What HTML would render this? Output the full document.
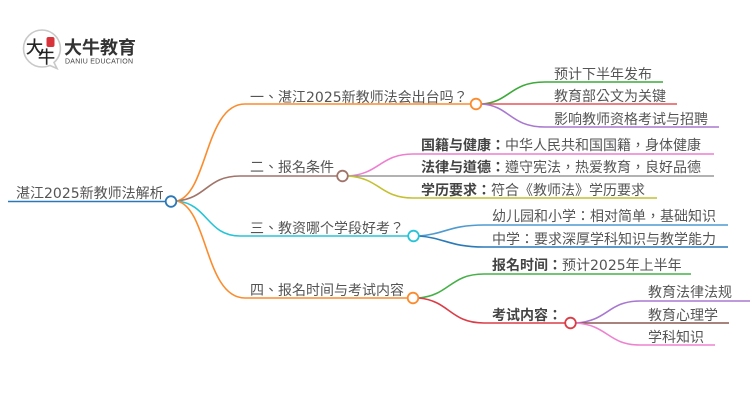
<!DOCTYPE html>
<html><head><meta charset="utf-8"><style>
html,body{margin:0;padding:0;background:#fff;width:750px;height:410px;overflow:hidden}
svg{display:block}
text{font-family:"DejaVu Sans","WenQuanYi Zen Hei","Noto Sans CJK TC",sans-serif;font-size:14px;fill:#555}
tspan.b{font-weight:700;fill:#444}
path,line{fill:none;stroke-width:1.6}
circle.n{fill:#fff;stroke-width:1.8}
</style></head><body>
<svg width="750" height="410" viewBox="0 0 750 410" xmlns="http://www.w3.org/2000/svg">
<!-- logo -->
<path d="M42 30a18.500 18.500 0 1 0 0 37c3 0 6-.7 8-1.500l7 3-3-6a18.500 18.500 0 0 0-12-32.500z" stroke="#c9c9c9" stroke-width="1"/>
<path d="M27.500 38a18.500 18.500 0 0 1 29 0q-14.500-5-29 0z" fill="#e2202a" stroke="none"/>
<rect x="46.500" y="37" width="8" height="10" rx="2" fill="#d8323a"/>
<text x="26" y="53" style="font-size:17px;fill:#222;stroke:#222;stroke-width:.3;font-family:'Noto Sans CJK SC',sans-serif">大</text>
<text x="38" y="63" style="font-size:17px;fill:#222;stroke:#222;stroke-width:.3;font-family:'Noto Sans CJK SC',sans-serif">牛</text>
<text x="64" y="54" style="font-size:18px;font-weight:700;fill:#333;font-family:'Noto Sans CJK SC',sans-serif">大牛教育</text>
<text x="65" y="63.500" style="font-size:7px;fill:#444;font-family:'Liberation Sans',sans-serif" textLength="68">DANIU EDUCATION</text>
<!-- root -->
<line x1="8" y1="201.500" x2="166" y2="201.500" stroke="#2b78b8"/>
<!-- main branches -->
<path d="M177 201C208 193 205 104 245 104H470" stroke="#fb8c2e"/>
<path d="M177 201C207 198 207 176 240 176H337" stroke="#a1746a"/>
<path d="M177 201C208 204 207 236 240 236H408" stroke="#27c4d8"/>
<path d="M177 201C208 208 205 298 245 298H408" stroke="#fb8c2e"/>
<!-- leaves 1 -->
<path d="M482 104C510 102 510 82 545 82H663" stroke="#3daa3a"/>
<path d="M482 104H677" stroke="#e8535a"/>
<path d="M482 104C510 106 510 127 545 127H719" stroke="#a878d0"/>
<!-- leaves 2 -->
<path d="M348 176C380 174 380 154 413 154H714" stroke="#ee7fd0"/>
<path d="M348 176H714" stroke="#999"/>
<path d="M348 176C380 178 380 198 413 198H657" stroke="#c4c030"/>
<!-- leaves 3 -->
<path d="M419 236C445 234 450 225 484 225H728" stroke="#4f9bd0"/>
<path d="M419 236C445 238 450 247 484 247H728" stroke="#2a7ab8"/>
<!-- leaves 4 -->
<path d="M419 298C450 295 450 274 484 274H691" stroke="#46b048"/>
<path d="M419 298C450 301 450 323 484 323H565" stroke="#dc3c46"/>
<path d="M576 323C608 321 608 301 640 301H750" stroke="#a878d0"/>
<path d="M576 323H729" stroke="#8a5a50"/>
<path d="M576 323C608 325 608 345 640 345H715" stroke="#ee82d0"/>
<!-- nodes -->
<circle class="n" cx="171" cy="201.500" r="5.300" stroke="#2b78b8"/>
<circle class="n" cx="476" cy="104" r="5.300" stroke="#fb8c2e"/>
<circle class="n" cx="342.500" cy="176" r="5.300" stroke="#a1746a"/>
<circle class="n" cx="413.500" cy="236" r="5.300" stroke="#27c4d8"/>
<circle class="n" cx="413" cy="298" r="5.300" stroke="#fb8c2e"/>
<circle class="n" cx="570.500" cy="323" r="5.300" stroke="#dc3c46"/>
<!-- labels -->
<text x="16" y="198">湛江2025新教师法解析</text>
<text x="250" y="102">一、湛江2025新教师法会出台吗？</text>
<text x="250" y="172">二、报名条件</text>
<text x="250" y="233">三、教资哪个学段好考？</text>
<text x="250" y="295">四、报名时间与考试内容</text>
<text x="554" y="79">预计下半年发布</text>
<text x="554" y="101">教育部公文为关键</text>
<text x="554" y="124">影响教师资格考试与招聘</text>
<text x="421" y="150"><tspan class="b">国籍与健康：</tspan>中华人民共和国国籍，身体健康</text>
<text x="421" y="172"><tspan class="b">法律与道德：</tspan>遵守宪法，热爱教育，良好品德</text>
<text x="421" y="195"><tspan class="b">学历要求：</tspan>符合《教师法》学历要求</text>
<text x="492" y="221">幼儿园和小学：相对简单，基础知识</text>
<text x="492" y="244">中学：要求深厚学科知识与教学能力</text>
<text x="492" y="270"><tspan class="b">报名时间：</tspan>预计2025年上半年</text>
<text x="492" y="320"><tspan class="b">考试内容：</tspan></text>
<text x="648" y="297">教育法律法规</text>
<text x="648" y="320">教育心理学</text>
<text x="648" y="342">学科知识</text>
</svg>
</body></html>
